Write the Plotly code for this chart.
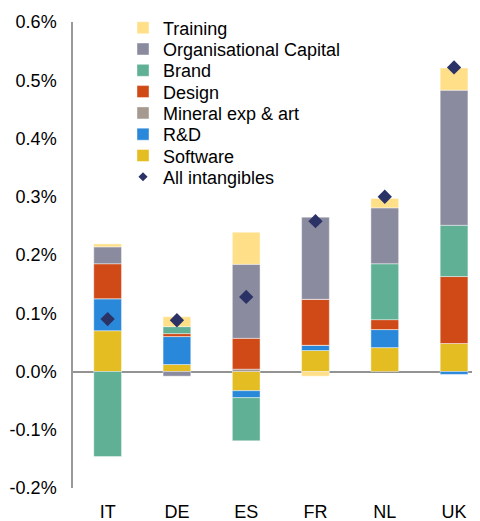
import plotly.graph_objects as go

countries = ["IT", "DE", "ES", "FR", "NL", "UK"]

# values in percentage points
software = [0.070, 0.012, -0.033, 0.036, 0.041, 0.048]
rnd = [0.055, 0.048, -0.012, 0.009, 0.031, -0.005]
mineral = [0.0, 0.0, 0.004, 0.0, 0.0, 0.0]
design = [0.060, 0.005, 0.053, 0.079, 0.017, 0.115]
brand = [-0.146, 0.012, -0.074, 0.0, 0.096, 0.088]
org_capital = [0.029, -0.008, 0.127, 0.141, 0.096, 0.232]
training = [0.005, 0.017, 0.055, -0.008, 0.016, 0.038]
all_intangibles = [0.090, 0.088, 0.128, 0.258, 0.300, 0.522]

ytick_vals = [-0.2, -0.1, 0.0, 0.1, 0.2, 0.3, 0.4, 0.5, 0.6]
ytick_text = ["-0.2%", "-0.1%", "0.0%", "0.1%", "0.2%", "0.3%", "0.4%", "0.5%", "0.6%"]

series = [
    ("Software", software, "#E3BD22"),
    ("R&D", rnd, "#2A88DA"),
    ("Mineral exp & art", mineral, "#A69A90"),
    ("Design", design, "#CF4A17"),
    ("Brand", brand, "#5FB094"),
    ("Organisational Capital", org_capital, "#8B8BA0"),
    ("Training", training, "#FFDF88"),
]
legend_order = ["Training", "Organisational Capital", "Brand", "Design",
                "Mineral exp & art", "R&D", "Software", "All intangibles"]

FONT = "Liberation Sans, Arial, sans-serif"
W, H = 480, 521
OFF = 8  # page body margin
mt, mb, ml, mr = 14, 41, 65, 0
plot_w = W - ml - mr
plot_h = H - mt - mb
DIAMOND = "#2B3266"

def legend_name(name):
    i = legend_order.index(name)
    return "legend" if i == 0 else f"legend{i+1}"

fig = go.Figure()
for name, vals, color in series:
    fig.add_trace(go.Bar(
        x=countries, y=vals, name=name, width=0.4,
        marker=dict(color=color, line=dict(color="rgba(255,255,255,0.6)", width=0.7)),
        legend=legend_name(name),
    ))
fig.add_trace(go.Scatter(
    x=countries, y=all_intangibles, name="All intangibles", mode="markers",
    marker=dict(symbol="diamond", size=11, color=DIAMOND),
    showlegend=False,
))
# legend entry for the diamond series (smaller symbol, as in the original)
fig.add_trace(go.Scatter(
    x=[None], y=[None], name="All intangibles", mode="markers",
    marker=dict(symbol="diamond", size=7, color=DIAMOND),
    legend=legend_name("All intangibles"), hoverinfo="skip",
))

layout_legends = {}
row0, step = 28, 21.3
for i, name in enumerate(legend_order):
    ypix = row0 + i * step - OFF
    key = "legend" if i == 0 else f"legend{i+1}"
    layout_legends[key] = dict(
        x=(123 - OFF - ml) / plot_w,
        y=1 - (ypix - mt) / plot_h,
        xanchor="left", yanchor="middle",
        bgcolor="rgba(0,0,0,0)", borderwidth=0,
        font=dict(family=FONT, size=18, color="#000"),
    )

fig.update_layout(
    width=W, height=H,
    margin=dict(t=mt, b=mb, l=ml, r=mr, pad=0),
    barmode="relative",
    plot_bgcolor="white", paper_bgcolor="white",
    font=dict(family=FONT, size=18, color="#000"),
    showlegend=True,
    **layout_legends,
)
fig.update_xaxes(
    range=[-0.5, 5.49], showgrid=False, showline=False, ticks="",
    tickfont=dict(family=FONT, size=18), zeroline=False,
    ticklabelstandoff=11,
)
fig.update_yaxes(
    range=[-0.2, 0.6], tickvals=ytick_vals, ticktext=ytick_text,
    showgrid=False, showline=True, linecolor="#999999", linewidth=1.5,
    zeroline=True, zerolinecolor="#939393", zerolinewidth=2,
    ticks="", ticklabelstandoff=11,
    tickfont=dict(family=FONT, size=18),
)

fig.write_html("out.html")
